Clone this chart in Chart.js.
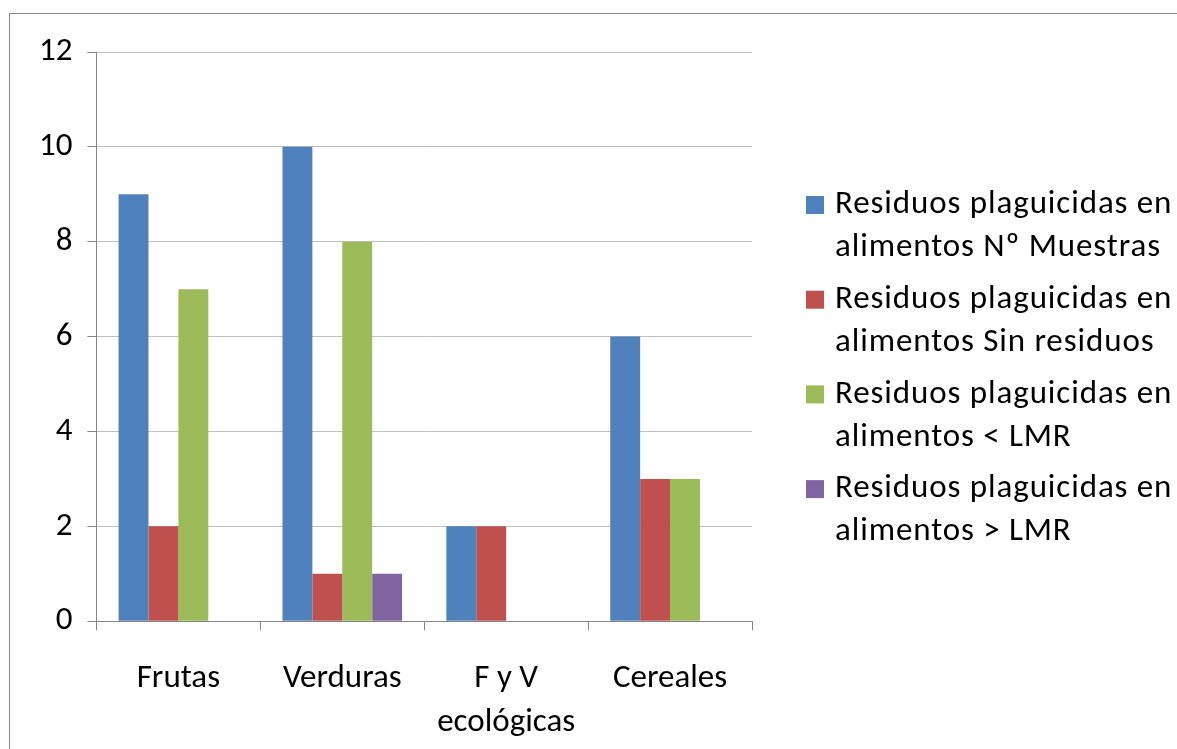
<!DOCTYPE html>
<html>
<head>
<meta charset="utf-8">
<script src="https://cdn.jsdelivr.net/npm/chart.js@4.4.1/dist/chart.umd.min.js"></script>
<style>
  html, body { margin: 0; padding: 0; background: #ffffff; overflow: hidden; }
  #frame {
    position: absolute; left: 9px; top: 13px;
    width: 1200px; height: 800px;
    border-top: 1px solid #868686; border-left: 1px solid #868686;
  }
  #wrap { position: absolute; left: 10px; top: 14px; width: 1167px; height: 766px; }
</style>
</head>
<body>
<div id="frame"></div>
<div id="wrap"><canvas id="chart"></canvas></div>
<script>
// categories and series
const categories = ["Frutas", "Verduras", ["F y V", "ecológicas"], "Cereales"];

const muestras = [9, 10, 2, 6];
const sinResiduos = [2, 1, 2, 3];
const menorLMR = [7, 8, 0, 3];
const mayorLMR = [0, 1, 0, 0];

const seriesNames = [
    ["Residuos plaguicidas en", "alimentos Nº Muestras"],
    ["Residuos plaguicidas en", "alimentos Sin residuos"],
    ["Residuos plaguicidas en", "alimentos < LMR"],
    ["Residuos plaguicidas en", "alimentos > LMR"]
];

const yTicks = [0, 2, 4, 6, 8, 10, 12];

const FONT = "Carlito, Lato, 'Open Sans', sans-serif";
const FONT_SIZE = 33;

function bar(name, values, color) {
    return {
        label: name,
        data: values,
        backgroundColor: color,
        borderWidth: 0,
        categoryPercentage: 0.73,
        barPercentage: 1.0
    };
}

// legend drawn beside the plot, two lines per series (Excel style)
const sideLegend = {
    id: "sideLegend",
    afterDraw(chart) {
        const ctx = chart.ctx;
        const area = chart.chartArea;
        const boxX = area.right + 54;
        const textX = boxX + 29;
        let y = area.top + 153;

        ctx.save();
        ctx.font = FONT_SIZE + "px " + FONT;
        ctx.letterSpacing = "0.9px";
        ctx.textBaseline = "middle";
        ctx.textAlign = "left";

        chart.data.datasets.forEach(ds => {
            ctx.fillStyle = ds.backgroundColor;
            ctx.fillRect(boxX, y - 9, 18, 18);
            ctx.fillStyle = "#000000";
            ds.label.forEach((line, i) => {
                ctx.fillText(line, textX, y + i * 43);
            });
            y += 94.7;
        });

        ctx.restore();
    }
};

new Chart(document.getElementById("chart"), {

    type: "bar",

    data: {
        labels: categories,
        datasets: [
            bar(seriesNames[0], muestras, "#4F81BD"),
            bar(seriesNames[1], sinResiduos, "#C0504D"),
            bar(seriesNames[2], menorLMR, "#9BBB59"),
            bar(seriesNames[3], mayorLMR, "#8064A2")
        ]
    },

    plugins: [sideLegend],

    options: {
        responsive: true,
        maintainAspectRatio: false,
        animation: false,

        layout: {
            padding: { top: 38, left: 14, right: 425, bottom: 8 }
        },

        plugins: {
            tooltip: { enabled: false },
            legend: { display: false }
        },

        scales: {
            x: {
                grid: {
                    display: true,
                    drawOnChartArea: false,
                    drawTicks: true,
                    tickLength: 9,
                    color: "#868686"
                },
                border: { color: "#868686" },
                ticks: {
                    color: "#000000",
                    padding: 27,
                    maxRotation: 0,
                    font: { family: FONT, size: FONT_SIZE, lineHeight: 1.33 }
                }
            },
            y: {
                min: 0,
                max: 12,
                afterBuildTicks: function (scale) {
                    scale.ticks = yTicks.map(v => ({ value: v }));
                },
                grid: {
                    color: "#bfbfbf",
                    tickLength: 9,
                    tickColor: "#868686"
                },
                border: { color: "#868686" },
                ticks: {
                    color: "#000000",
                    padding: 15,
                    font: { family: FONT, size: FONT_SIZE }
                }
            }
        }
    }

});
</script>
</body>
</html>
